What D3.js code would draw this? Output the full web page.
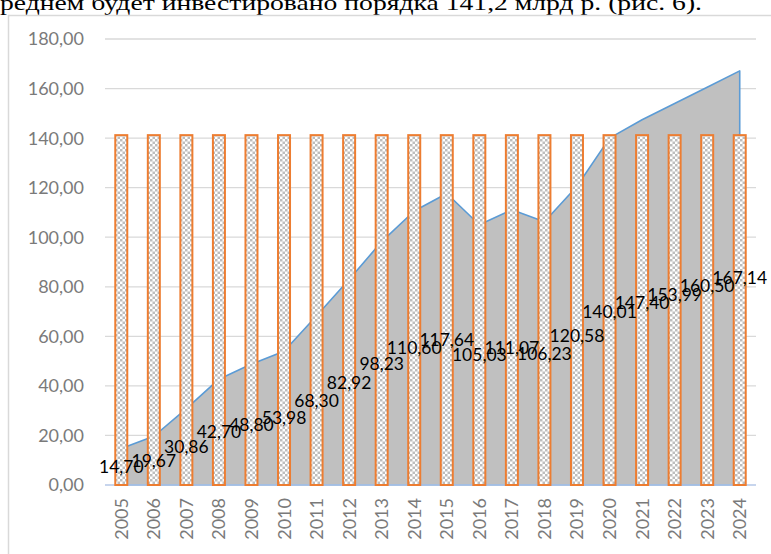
<!DOCTYPE html>
<html>
<head>
<meta charset="utf-8">
<script src="https://cdn.jsdelivr.net/npm/d3@7/dist/d3.min.js"></script>
<style>
  body { margin: 0; background: #fff; }
  svg { display: block; }
</style>
</head>
<body>
<div id="chart"></div>
<script>
// data
var years = ['2005', '2006', '2007', '2008', '2009', '2010', '2011', '2012', '2013', '2014',
  '2015', '2016', '2017', '2018', '2019', '2020', '2021', '2022', '2023', '2024'];
var investment = [14.70, 19.67, 30.86, 42.70, 48.80, 53.98, 68.30, 82.92, 98.23, 110.60,
  117.64, 105.03, 111.07, 106.23, 120.58, 140.01, 147.40, 153.99, 160.50, 167.14];
var average = years.map(function () { return 141.2; });
var yTicks = [0, 20, 40, 60, 80, 100, 120, 140, 160, 180];
var caption = 'реднем будет инвестировано порядка 141,2 млрд р. (рис. 6).';

var W = 771, H = 554;
var margin = {top: 39, right: 15, bottom: 69, left: 105};

var svg = d3.select('#chart').append('svg')
  .attr('width', W)
  .attr('height', H);

// checker pattern for the columns
var defs = svg.append('defs');
var pat = defs.append('pattern')
  .attr('id', 'checker')
  .attr('patternUnits', 'userSpaceOnUse')
  .attr('width', 5)
  .attr('height', 5);
pat.append('rect').attr('width', 5).attr('height', 5).attr('fill', '#fff');
pat.append('rect').attr('width', 2.5).attr('height', 2.5).attr('fill', '#bdbdbd');
pat.append('rect').attr('x', 2.5).attr('y', 2.5).attr('width', 2.5).attr('height', 2.5).attr('fill', '#bdbdbd');

// text from the page above the chart
svg.append('text')
  .attr('x', 0)
  .attr('y', 10)
  .attr('font-family', '"Liberation Serif", "Times New Roman", serif')
  .attr('font-size', 22)
  .attr('textLength', 702)
  .attr('lengthAdjust', 'spacingAndGlyphs')
  .attr('fill', '#000')
  .text(caption);

// chart frame
svg.append('rect')
  .attr('x', 8.5)
  .attr('y', 15.5)
  .attr('width', 800)
  .attr('height', 600)
  .attr('fill', 'none')
  .attr('stroke', '#d9d9d9')
  .attr('stroke-width', 1.5);

var width = W - margin.left - margin.right;
var height = H - margin.top - margin.bottom;
var g = svg.append('g').attr('transform', 'translate(' + margin.left + ',' + margin.top + ')');

var x = d3.scaleBand().domain(years).range([0, width]);
var y = d3.scaleLinear().domain([0, 180]).range([height, 0]);
var cx = function (d) { return x(d) + x.bandwidth() / 2; };
var fmt = function (v) { return d3.format('.2f')(v).replace('.', ','); };

// gridlines
g.selectAll('.grid').data(yTicks.slice(1)).enter().append('line')
  .attr('x1', 0).attr('x2', width)
  .attr('y1', function (d) { return y(d); })
  .attr('y2', function (d) { return y(d); })
  .attr('stroke', '#d9d9d9')
  .attr('stroke-width', 1.3);

// y labels
g.selectAll('.ylab').data(yTicks).enter().append('text')
  .attr('x', -21)
  .attr('y', function (d) { return y(d); })
  .attr('dy', '0.36em')
  .attr('text-anchor', 'end')
  .attr('font-family', 'Lato, sans-serif')
  .attr('font-size', 18)
  .attr('fill', '#7a7a7a')
  .text(fmt);

// area with outline
var pts = years.map(function (d, i) { return [cx(d), y(investment[i])]; });
var outline = [[cx(years[0]), y(0)]].concat(pts).concat([[cx(years[years.length - 1]), y(0)]]);
g.append('path')
  .attr('d', d3.line()(outline) + 'Z')
  .attr('fill', '#c0c0c0')
  .attr('stroke', '#5b9bd5')
  .attr('stroke-width', 1.6)
  .attr('stroke-linejoin', 'round');

// axis line
g.append('line')
  .attr('x1', 0).attr('x2', width)
  .attr('y1', y(0)).attr('y2', y(0))
  .attr('stroke', '#b4c7e7')
  .attr('stroke-width', 1.3);

// columns
var bw = 12;
g.selectAll('.bar').data(years).enter().append('rect')
  .attr('x', function (d) { return cx(d) - bw / 2; })
  .attr('y', function (d, i) { return y(average[i]); })
  .attr('width', bw)
  .attr('height', function (d, i) { return y(0) - y(average[i]); })
  .attr('fill', 'url(#checker)')
  .attr('stroke', '#ed7d31')
  .attr('stroke-width', 2);

// x labels
g.selectAll('.xlab').data(years).enter().append('text')
  .attr('transform', function (d) { return 'translate(' + cx(d) + ',' + (height + 13) + ') rotate(-90)'; })
  .attr('dy', '0.36em')
  .attr('text-anchor', 'end')
  .attr('font-family', 'Lato, sans-serif')
  .attr('font-size', 18)
  .attr('fill', '#7a7a7a')
  .text(function (d) { return d; });

// data labels at mid-height of the area
g.selectAll('.dlab').data(years).enter().append('text')
  .attr('x', cx)
  .attr('y', function (d, i) { return y(investment[i] / 2); })
  .attr('dy', '0.36em')
  .attr('text-anchor', 'middle')
  .attr('font-family', 'Lato, sans-serif')
  .attr('font-size', 17.5)
  .attr('fill', '#000')
  .text(function (d, i) { return fmt(investment[i]); });
</script>
</body>
</html>
